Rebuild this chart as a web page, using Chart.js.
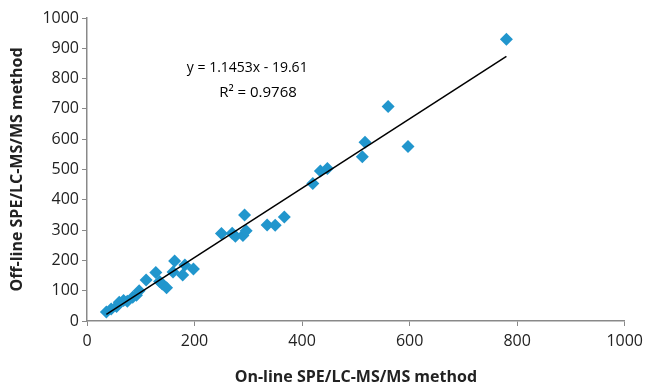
<!DOCTYPE html>
<html>
<head>
<meta charset="utf-8">
<script src="https://cdn.jsdelivr.net/npm/chart.js@4/dist/chart.umd.min.js"></script>
<style>
  html, body { margin: 0; padding: 0; background: #fff; }
  #wrap { width: 649px; height: 384px; }
</style>
</head>
<body>
<div id="wrap"><canvas id="chart" width="649" height="384"></canvas></div>
<script>
// measured values (on-line vs off-line method)
const onlineValues = [36, 45, 55, 60, 68, 75, 85, 92, 97, 110, 128, 135, 140, 148, 160, 163, 178, 182, 198,
  250, 270, 276, 290, 296, 293, 335, 350, 367, 420, 434, 447, 512, 517, 560, 597, 780];
const offlineValues = [30, 40, 48, 62, 68, 65, 78, 85, 100, 135, 160, 130, 122, 110, 162, 198, 152, 185, 172,
  289, 290, 280, 282, 298, 350, 317, 316, 343, 454, 495, 503, 542, 590, 708, 576, 930];

// linear trendline end points
const trendX = [36, 780];
const trendY = [21.6, 873.7];

const equationLines = ["y = 1.1453x - 19.61", "R\u00b2 = 0.9768"];
const xTitle = "On-line SPE/LC-MS/MS method";
const yTitle = "Off-line SPE/LC-MS/MS method";

const fontFamily = "'Open Sans', 'Liberation Sans', sans-serif";
const axisGray = "#898989";

const scatterPoints = onlineValues.map((x, i) => ({ x: x, y: offlineValues[i] }));
const trendPoints = trendX.map((x, i) => ({ x: x, y: trendY[i] }));

const equationLabel = {
  id: "equationLabel",
  afterDatasetsDraw(chart) {
    const { ctx, scales } = chart;
    ctx.save();
    ctx.fillStyle = "#000";
    ctx.font = "14px " + fontFamily;
    ctx.textAlign = "center";
    ctx.textBaseline = "middle";
    ctx.fillText(equationLines[0], scales.x.getPixelForValue(298), scales.y.getPixelForValue(834));
    ctx.font = "15px " + fontFamily;
    ctx.fillText(equationLines[1], scales.x.getPixelForValue(318), scales.y.getPixelForValue(753));
    ctx.restore();
  }
};

new Chart(document.getElementById("chart"), {
  type: "scatter",
  data: {
    datasets: [
      {
        label: "trend",
        type: "line",
        data: trendPoints,
        borderColor: "#000",
        borderWidth: 1.5,
        pointRadius: 0,
        fill: false,
        order: 0
      },
      {
        label: "samples",
        data: scatterPoints,
        pointStyle: "rectRot",
        pointRadius: 6.5,
        pointHoverRadius: 6.5,
        backgroundColor: "#2196CD",
        borderColor: "#2196CD",
        borderWidth: 0,
        order: 1
      }
    ]
  },
  options: {
    responsive: false,
    animation: false,
    layout: { padding: { top: 18, right: 20, left: 0, bottom: -3 } },
    plugins: {
      legend: { display: false },
      tooltip: { enabled: false }
    },
    scales: {
      x: {
        type: "linear",
        min: 0,
        max: 1000,
        afterFit(s) { s.height = 66; },
        ticks: {
          stepSize: 200, color: "#222", padding: 6,
          font: { family: fontFamily, size: 16 },
          callback: (v) => String(v)
        },
        grid: { drawOnChartArea: false, drawTicks: true, tickLength: 5, color: axisGray },
        border: { color: axisGray, width: 1.5 },
        title: { display: true, text: xTitle, color: "#222", font: { family: fontFamily, size: 16, weight: "bold" }, padding: { top: 2, bottom: 0 } }
      },
      y: {
        type: "linear",
        min: 0,
        max: 1000,
        afterFit(s) { s.width = 87; },
        ticks: {
          stepSize: 100, color: "#222", padding: 3,
          font: { family: fontFamily, size: 16 },
          callback: (v) => String(v)
        },
        grid: { drawOnChartArea: false, drawTicks: true, tickLength: 5, color: axisGray },
        border: { color: axisGray, width: 1.5 },
        title: { display: true, text: yTitle, color: "#222", font: { family: fontFamily, size: 16, weight: "bold" }, padding: { top: 8, bottom: 4 } }
      }
    }
  },
  plugins: [equationLabel]
});
</script>
</body>
</html>
